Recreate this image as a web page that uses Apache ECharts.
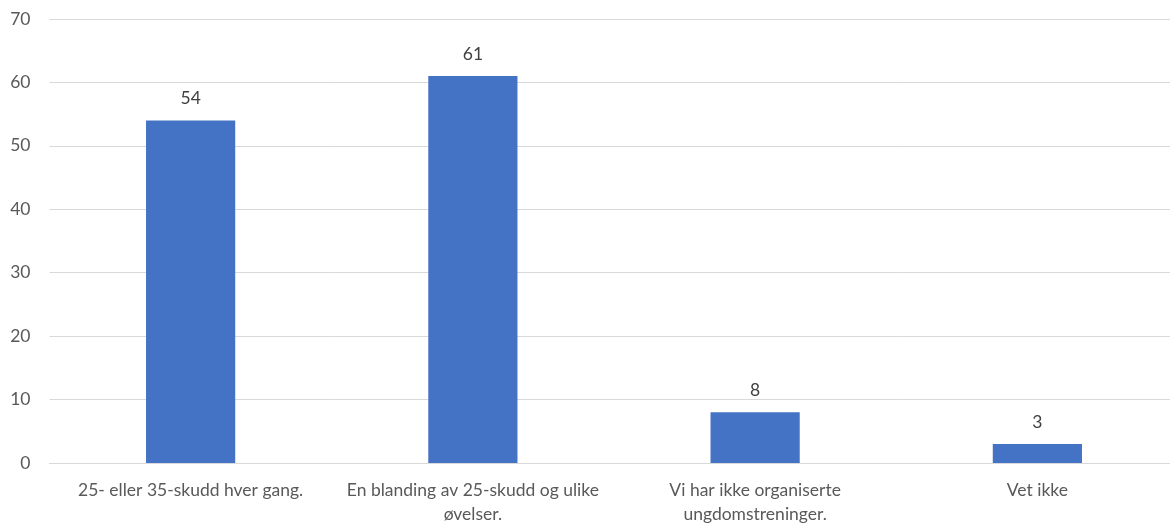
<!DOCTYPE html>
<html><head><meta charset="utf-8">
<script src="https://cdn.jsdelivr.net/npm/echarts@6/dist/echarts.min.js"></script>
<style>html,body{margin:0;padding:0;background:#fff;overflow:hidden}#c{width:1180px;height:526px}</style>
</head><body><div id="c"></div>
<script>
const categories = ["25- eller 35-skudd hver gang.", "En blanding av 25-skudd og ulike\nøvelser.", "Vi har ikke organiserte\nungdomstreninger.", "Vet ikke"];
const values = [54, 61, 8, 3];
const yTicks = {min: 0, max: 70, interval: 10};
const chart = echarts.init(document.getElementById('c'));
chart.setOption({
  animation: false,
  grid: {left: 49.5, right: 1.5, top: 19, bottom: 61.5},
  xAxis: {
    type: 'category', data: categories,
    axisLine: {lineStyle: {color: '#d9d9d9'}},
    axisTick: {show: false},
    axisLabel: {color: '#595959', fontFamily: 'Lato', fontSize: 17.5, lineHeight: 24, margin: 15, interval: 0}
  },
  yAxis: {
    type: 'value', min: yTicks.min, max: yTicks.max, interval: yTicks.interval,
    axisLine: {show: false}, axisTick: {show: false},
    splitLine: {lineStyle: {color: '#d9d9d9'}},
    axisLabel: {color: '#595959', fontFamily: 'Lato', fontSize: 17.5, margin: 19}
  },
  series: [{
    type: 'bar', data: values, barWidth: '31.6%',
    itemStyle: {color: '#4472c4'},
    label: {show: true, position: 'top', distance: 13, color: '#404040', fontFamily: 'Lato', fontSize: 17.5}
  }]
});
</script></body></html>
